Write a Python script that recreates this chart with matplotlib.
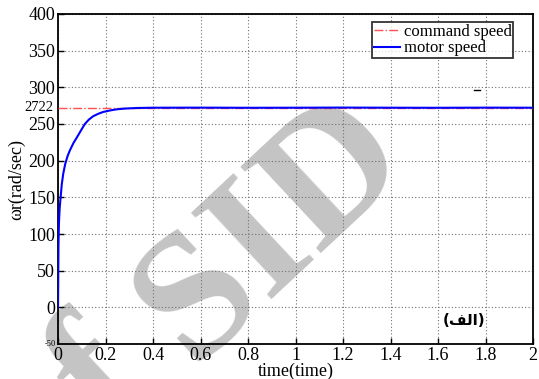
import matplotlib.pyplot as plt

# motor speed response
t_motor = [0, 0.001, 0.002, 0.004, 0.007, 0.011, 0.016, 0.022, 0.03, 0.04, 0.05,
           0.065, 0.08, 0.1, 0.113, 0.13, 0.148, 0.17, 0.19, 0.22, 0.247, 0.28,
           0.33, 0.4, 0.6, 0.8, 1.0, 1.2, 1.4, 1.6, 1.8, 2.0]
w_motor = [0, 40, 85, 115, 135, 150, 168, 182, 195, 206, 214,
           224, 232, 243, 250, 256, 260.6, 264, 266.4, 268.5, 270, 271,
           271.8, 272.2, 272.3, 272.1, 272.2, 272.4, 272.2, 272.1, 272.3, 272.2]

t_cmd = [0, 2]
w_cmd = [272.2, 272.2]

# small stray dash near the top right
t_dash = [1.752, 1.776]
w_dash = [296, 296]

xticks = [0, 0.2, 0.4, 0.6, 0.8, 1, 1.2, 1.4, 1.6, 1.8, 2]
xlabels = ["0", "0.2", "0.4", "0.6", "0.8", "1", "1.2", "1.4", "1.6", "1.8", "2"]
yticks = [0, 50, 100, 150, 200, 250, 300, 350, 400]

plt.rcParams['font.family'] = ['Liberation Serif', 'DejaVu Serif']

fig = plt.figure(figsize=(5.39, 3.79), dpi=100)
ax = fig.add_axes([0.1076, 0.0923, 0.8814, 0.8708])
ax.patch.set_alpha(0)  # let the watermark show under the grid

ax.plot(t_cmd, w_cmd, color='#ff5050', linestyle='-.', linewidth=1, label='command speed', zorder=3)
ax.plot(t_motor, w_motor, color='#0000ff', linewidth=1.5, label='motor speed', zorder=4)
ax.plot(t_dash, w_dash, color='black', linewidth=1, zorder=4)

ax.set_xlim(0, 2)
ax.set_ylim(-50, 400)
ax.set_xticks(xticks)
ax.set_xticklabels(xlabels, fontsize=13)
ax.set_yticks(yticks)
ax.set_yticklabels([str(v) for v in yticks], fontsize=13)
ax.tick_params(direction='in', length=4, width=1, pad=2)
ax.grid(True, linestyle=(0, (1, 2)), color='#707070', linewidth=0.8)
for s in ax.spines.values():
    s.set_linewidth(1.3)

# extra labels on the y axis
ax.text(-0.01, 272.2, "2722", fontsize=10.5, ha='right', va='center',
        transform=ax.get_yaxis_transform())
ax.text(-0.005, -50, "-50", fontsize=6, ha='right', va='center',
        transform=ax.get_yaxis_transform())

ax.set_xlabel("time(time)", fontsize=13, labelpad=-1)
ax.set_ylabel("ωr(rad/sec)", fontsize=13, labelpad=2)

leg = ax.legend(loc='upper right', bbox_to_anchor=(0.958, 0.976), fontsize=12,
                frameon=True, fancybox=False, edgecolor='black', borderpad=0.1,
                labelspacing=0.05, handlelength=1.6, handletextpad=0.2, borderaxespad=0)
leg.get_frame().set_linewidth(1.3)

# "(الف)" in presentation forms so it reads right
ax.text(1.71, -18, "(\ufed2\ufedf\ufe8d)", fontsize=11, fontweight='bold',
        family=['DejaVu Sans'], ha='center', va='center', zorder=5)

# grey watermark, behind the axes content
fig.text(0.506, 0.393, "SID", fontsize=130, fontweight='bold', color='#c4c4c4',
         rotation=43, ha='center', va='center', zorder=-1)
fig.text(0.19, -0.01, "f", fontsize=130, fontweight='bold', color='#c4c4c4',
         rotation=43, ha='center', va='center', zorder=-1)

fig.savefig("out.png", dpi=100)
